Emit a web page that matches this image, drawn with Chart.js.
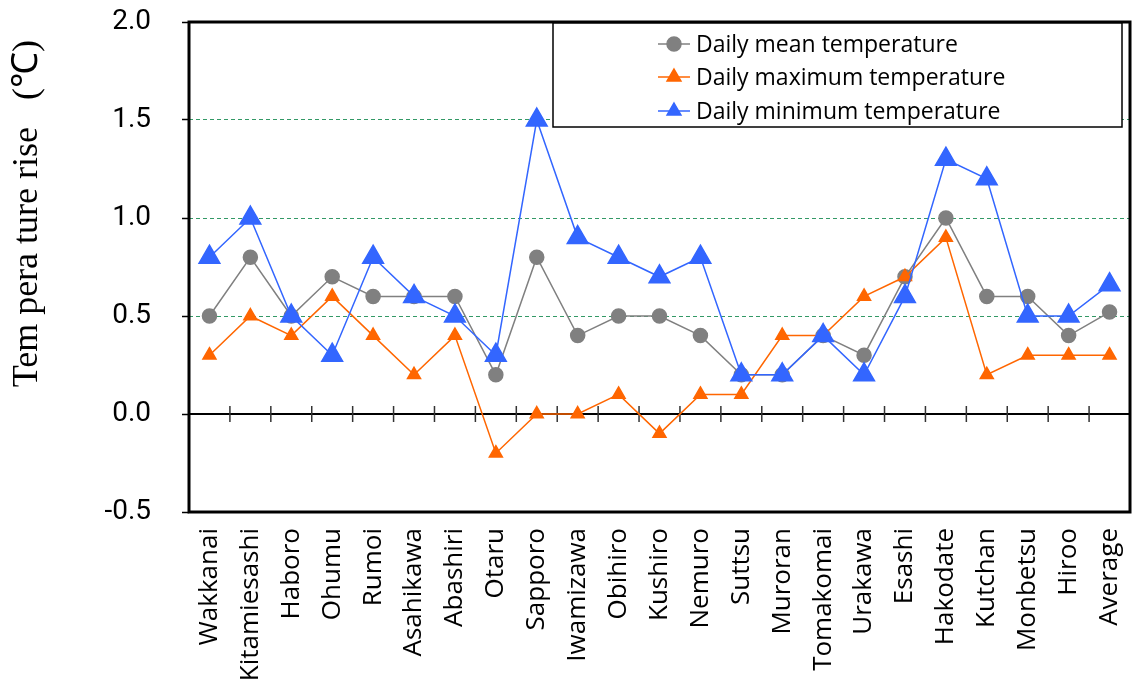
<!DOCTYPE html>
<html>
<head>
<meta charset="utf-8">
<script src="https://cdn.jsdelivr.net/npm/chart.js@4/dist/chart.umd.min.js"></script>
<style>
  html, body { margin: 0; padding: 0; background: #fff; }
  #chart { display: block; }
</style>
</head>
<body>
<canvas id="chart" width="1133" height="686"></canvas>
<script>
const stations = [
  "Wakkanai", "Kitamiesashi", "Haboro", "Ohumu", "Rumoi", "Asahikawa",
  "Abashiri", "Otaru", "Sapporo", "Iwamizawa", "Obihiro", "Kushiro",
  "Nemuro", "Suttsu", "Muroran", "Tomakomai", "Urakawa", "Esashi",
  "Hakodate", "Kutchan", "Monbetsu", "Hiroo", "Average"
];
const meanRise = [0.5, 0.8, 0.5, 0.7, 0.6, 0.6, 0.6, 0.2, 0.8, 0.4, 0.5, 0.5,
  0.4, 0.2, 0.2, 0.4, 0.3, 0.7, 1.0, 0.6, 0.6, 0.4, 0.52];
const maxRise = [0.3, 0.5, 0.4, 0.6, 0.4, 0.2, 0.4, -0.2, 0.0, 0.0, 0.1, -0.1,
  0.1, 0.1, 0.4, 0.4, 0.6, 0.7, 0.9, 0.2, 0.3, 0.3, 0.3];
const minRise = [0.8, 1.0, 0.5, 0.3, 0.8, 0.6, 0.5, 0.3, 1.5, 0.9, 0.8, 0.7,
  0.8, 0.2, 0.2, 0.4, 0.2, 0.6, 1.3, 1.2, 0.5, 0.5, 0.66];
const yTicks = [-0.5, 0.0, 0.5, 1.0, 1.5, 2.0];
const gridValues = [0.5, 1.0, 1.5];

const chartCanvas = document.querySelector("#chart");

// zero line with the tick marks between stations
const zeroAxis = {
  id: "zeroAxis",
  beforeDatasetsDraw(chart) {
    const { ctx, chartArea, scales } = chart;
    const y0 = scales.y.getPixelForValue(0);
    ctx.save();
    ctx.strokeStyle = "#000";
    ctx.lineWidth = 2;
    ctx.beginPath();
    ctx.moveTo(chartArea.left, y0);
    ctx.lineTo(chartArea.right, y0);
    ctx.stroke();
    ctx.strokeStyle = "#333";
    ctx.lineWidth = 1.5;
    for (let i = 1; i < stations.length; i++) {
      const x = (scales.x.getPixelForValue(i - 1) + scales.x.getPixelForValue(i)) / 2;
      ctx.beginPath();
      ctx.moveTo(x, y0 - 8);
      ctx.lineTo(x, y0 + 8);
      ctx.stroke();
    }
    ctx.restore();
  },
};

// plot frame and boxed legend
const frameLegend = {
  id: "frameLegend",
  afterDraw(chart) {
    const { ctx, chartArea } = chart;
    ctx.save();
    ctx.strokeStyle = "#000";
    ctx.lineWidth = 3;
    ctx.strokeRect(chartArea.left, chartArea.top, chartArea.right - chartArea.left, chartArea.bottom - chartArea.top);

    const bx = chartArea.left + 364;
    const by = chartArea.top + 1;
    ctx.fillStyle = "#fff";
    ctx.fillRect(bx, by, 569, 104);
    ctx.lineWidth = 1.5;
    ctx.strokeRect(bx, by, 569, 104);

    const rowY = [21, 54, 88];
    ctx.font = "23px 'Open Sans', sans-serif";
    ctx.textBaseline = "middle";
    chart.data.datasets.forEach((ds, k) => {
      const y = by + rowY[k];
      const mx = bx + 121;
      ctx.strokeStyle = ds.borderColor;
      ctx.lineWidth = 1.5;
      ctx.beginPath();
      ctx.moveTo(mx - 16, y);
      ctx.lineTo(mx + 16, y);
      ctx.stroke();
      ctx.fillStyle = ds.backgroundColor;
      Chart.helpers.drawPoint(ctx, {
        pointStyle: ds.pointStyle,
        radius: ds.pointStyle === "circle" ? 7 : 8,
        rotation: 0,
        borderWidth: 1,
      }, mx, y);
      ctx.fillStyle = "#000";
      ctx.textAlign = "left";
      ctx.fillText(ds.label, mx + 22, y + 1);
    });
    ctx.restore();
  },
};

const data = {
  labels: stations,
  datasets: [
    {
      label: "Daily mean temperature",
      data: meanRise,
      borderColor: "#808080",
      backgroundColor: "#808080",
      borderWidth: 1.5,
      pointStyle: "circle",
      pointRadius: 7,
      order: 2,
    },
    {
      label: "Daily maximum temperature",
      data: maxRise,
      borderColor: "#ff6600",
      backgroundColor: "#ff6600",
      borderWidth: 1.5,
      pointStyle: "triangle",
      pointRadius: 7.5,
      order: 1,
    },
    {
      label: "Daily minimum temperature",
      data: minRise,
      borderColor: "#3366ff",
      backgroundColor: "#3366ff",
      borderWidth: 1.5,
      pointStyle: "triangle",
      pointRadius: 12,
      order: 0,
    },
  ],
};

const config = {
  type: "line",
  data: data,
  plugins: [zeroAxis, frameLegend],
  options: {
    responsive: false,
    animation: false,
    devicePixelRatio: 1,
    layout: { autoPadding: false, padding: { top: 22, right: 3, left: 0, bottom: 0 } },
    plugins: {
      legend: { display: false },
      tooltip: { enabled: false },
    },
    elements: {
      line: { tension: 0 },
      point: { borderWidth: 1, hoverRadius: 7 },
    },
    scales: {
      x: {
        type: "category",
        offset: true,
        grid: { display: false, drawTicks: false },
        border: { display: false },
        ticks: {
          autoSkip: false,
          minRotation: 90,
          maxRotation: 90,
          padding: 16,
          color: "#000",
          font: { family: "'Open Sans', sans-serif", size: 26 },
        },
        afterFit(scale) {
          scale.height = 174;
          scale.paddingLeft = 0;
          scale.paddingRight = 0;
        },
      },
      y: {
        min: -0.5,
        max: 2.0,
        afterBuildTicks(scale) {
          scale.ticks = yTicks.map((v) => ({ value: v }));
        },
        grid: {
          color: (c) => (gridValues.includes(c.tick && c.tick.value) ? "#339966" : "rgba(0,0,0,0)"),
          lineWidth: 1,
          drawTicks: true,
          tickLength: 7,
          tickColor: "#000",
          tickWidth: 1.5,
        },
        border: { display: false, dash: [4, 3] },
        ticks: {
          padding: 31,
          color: "#000",
          font: { family: "Roboto, sans-serif", size: 28 },
          callback: (v) => Number(v).toFixed(1),
        },
        title: {
          display: true,
          text: "Tem pera ture rise   (℃)  ",
          align: "end",
          color: "#000",
          font: { family: "'Liberation Serif', serif", size: 36 },
          padding: { top: 6, bottom: 0 },
        },
        afterFit(scale) {
          scale.width = 189;
          scale.paddingTop = 0;
          scale.paddingBottom = 0;
        },
      },
    },
  },
};

const myChart = new Chart(chartCanvas, config);
</script>
</body>
</html>
